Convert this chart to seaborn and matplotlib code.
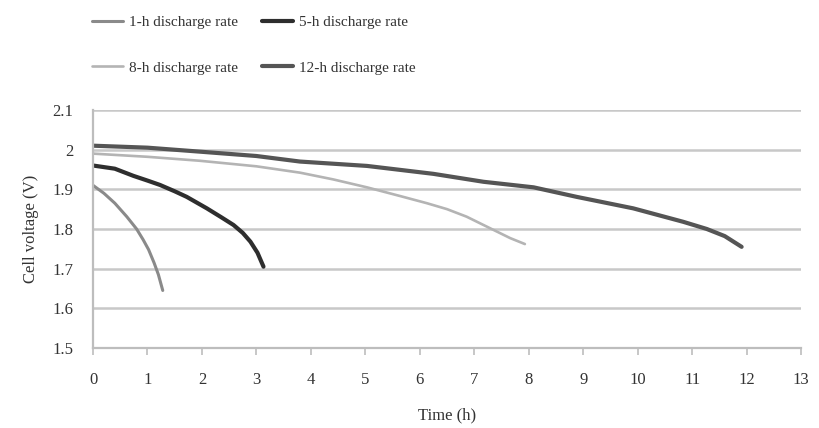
import matplotlib
matplotlib.use("Agg")
import matplotlib.pyplot as plt
import seaborn as sns
import pandas as pd

t_1h = [0, 0.2, 0.4, 0.62, 0.8, 0.92, 1.02, 1.12, 1.2, 1.28]
v_1h = [1.91, 1.89, 1.865, 1.831, 1.80, 1.773, 1.748, 1.715, 1.685, 1.645]

t_5h = [0, 0.4, 0.74, 1.0, 1.23, 1.5, 1.72, 2.09, 2.35, 2.58, 2.75, 2.89, 3.02, 3.13]
v_5h = [1.96, 1.952, 1.934, 1.922, 1.911, 1.895, 1.881, 1.852, 1.83, 1.81, 1.79, 1.768, 1.74, 1.705]

t_8h = [0, 1.0, 1.96, 3.0, 3.8, 4.41, 5.03, 5.64, 6.13, 6.5, 6.86, 7.23, 7.66, 7.93]
v_8h = [1.99, 1.982, 1.972, 1.958, 1.942, 1.925, 1.905, 1.883, 1.865, 1.85, 1.831, 1.806, 1.777, 1.762]

t_12h = [0, 1.0, 1.96, 3.0, 3.8, 5.03, 5.64, 6.25, 7.17, 8.09, 8.88, 9.92, 10.84, 11.27, 11.6, 11.91]
v_12h = [2.01, 2.005, 1.995, 1.984, 1.97, 1.959, 1.949, 1.939, 1.919, 1.905, 1.881, 1.852, 1.818, 1.80, 1.782, 1.755]

labels = ["1-h discharge rate", "5-h discharge rate", "8-h discharge rate", "12-h discharge rate"]
x_ticks = list(range(0, 14))
y_ticks = [1.5, 1.6, 1.7, 1.8, 1.9, 2.0, 2.1]
y_tick_labels = ["1.5", "1.6", "1.7", "1.8", "1.9", "2", "2.1"]

sns.set_theme(style="white")
plt.rcParams["font.family"] = ["Liberation Serif", "DejaVu Serif"]

fig = plt.figure(figsize=(8.19, 4.28), dpi=100)
ax = fig.add_axes([0.1136, 0.187, 0.978 - 0.1136, 0.743 - 0.187])

series = [(t_1h, v_1h, "#8a8a8a", 2.2),
          (t_5h, v_5h, "#2e2e2e", 3.0),
          (t_8h, v_8h, "#b4b4b4", 1.9),
          (t_12h, v_12h, "#555555", 3.0)]
handles = []
for (t, v, c, lw), lab in zip(series, labels):
    df = pd.DataFrame({"t": t, "v": v})
    sns.lineplot(data=df, x="t", y="v", ax=ax, color=c, linewidth=lw, label=lab, legend=False)
    handles.append(ax.lines[-1])

ax.set_xlim(0, 13)
ax.set_ylim(1.5, 2.1)
ax.set_xticks(x_ticks)
ax.set_xticklabels([str(x) for x in x_ticks])
ax.set_yticks(y_ticks)
ax.set_yticklabels(y_tick_labels)
ax.yaxis.grid(True, color="#c8c8c8", linewidth=1.8)
ax.set_axisbelow(True)
for s in ["top", "right"]:
    ax.spines[s].set_visible(False)
for s in ["left", "bottom"]:
    ax.spines[s].set_color("#bdbdbd")
    ax.spines[s].set_linewidth(1.6)
ax.tick_params(axis="x", direction="out", length=5, width=1.2, color="#bdbdbd",
               labelsize=12, labelcolor="#333333", pad=12, bottom=True)
ax.tick_params(axis="y", length=0, labelsize=12, labelcolor="#333333", pad=14)
ax.set_xlabel("Time (h)", fontsize=12, color="#333333", labelpad=14)
ax.set_ylabel("Cell voltage (V)", fontsize=12, color="#333333", labelpad=10)

order = [0, 2, 1, 3]
fig.legend([handles[i] for i in order], [labels[i] for i in order], ncol=2,
           loc="center", bbox_to_anchor=(0.31, 0.895), frameon=False, fontsize=11,
           labelcolor="#333333", handlelength=2.0, columnspacing=1.6, labelspacing=2.1,
           handletextpad=0.4)

fig.savefig("out.png", dpi=100)
